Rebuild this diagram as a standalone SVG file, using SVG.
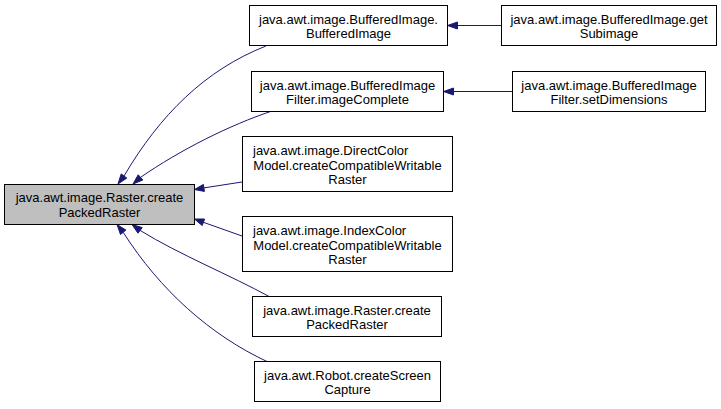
<svg xmlns="http://www.w3.org/2000/svg" width="721" height="409" viewBox="0 0 721 409">
<style>
.n rect{fill:#fff;stroke:#000;stroke-width:1}
.n.main rect{fill:#bfbfbf}
text{font-family:"Liberation Sans",Arial,sans-serif;font-size:13px;fill:#000;text-anchor:middle}
text.l{text-anchor:start}
.e path{fill:none;stroke:#191970;stroke-width:1}
.e polygon{fill:#191970;stroke:#191970;stroke-width:1}
</style>
<rect width="721" height="409" fill="#fff"/>
<g id="edges" class="e">
<path d="M266,46 C205,70 160,115 124,176"/>
<polygon points="126.8,178.1 118,184 121.2,173.9"/>
<path d="M272,111 C230,125 180,150 140.5,177.4"/>
<polygon points="142.8,180 133,184 138.2,174.8"/>
<path d="M242,182 L203.9,187.9"/>
<polygon points="204.4,191.4 194.5,189.5 203.4,184.4"/>
<path d="M242,236 L203.4,222.3"/>
<polygon points="202.2,225.6 194.5,219 204.6,219"/>
<path d="M270,297 C230,275 180,255 140.1,230.4"/>
<polygon points="138,233.2 132,224.5 142.2,227.6"/>
<path d="M268,362 C210,335 160,290 123.2,232.3"/>
<polygon points="120.5,234.5 117,224.5 125.9,230.1"/>
<path d="M501,25.5 L457.5,25.5"/>
<polygon points="457.5,22 447.5,25.5 457.5,29"/>
<path d="M512,91.5 L453.5,91.5"/>
<polygon points="453.5,88 443.5,91.5 453.5,95"/>
</g>
<g id="main" class="n main">
<rect x="4.5" y="184.5" width="190" height="40"/>
<text x="99.5" y="202">java.awt.image.Raster.create</text>
<text x="99.5" y="216.5">PackedRaster</text>
</g>
<g id="bufferedImage" class="n">
<rect x="249.5" y="5.5" width="198" height="40"/>
<text x="348.5" y="23.5">java.awt.image.BufferedImage.</text>
<text x="348.5" y="38">BufferedImage</text>
</g>
<g id="getSubimage" class="n">
<rect x="501.5" y="5.5" width="215" height="40"/>
<text x="609" y="23.5">java.awt.image.BufferedImage.get</text>
<text x="609" y="38">Subimage</text>
</g>
<g id="imageComplete" class="n">
<rect x="251.5" y="71.5" width="192" height="40"/>
<text x="347.5" y="89.5">java.awt.image.BufferedImage</text>
<text x="347.5" y="104">Filter.imageComplete</text>
</g>
<g id="setDimensions" class="n">
<rect x="512.5" y="71.5" width="193" height="40"/>
<text x="609" y="89.5">java.awt.image.BufferedImage</text>
<text x="609" y="104">Filter.setDimensions</text>
</g>
<g id="directColor" class="n">
<rect x="242.5" y="136.5" width="210" height="55"/>
<text class="l" x="253" y="155">java.awt.image.DirectColor</text>
<text x="347.5" y="169.5">Model.createCompatibleWritable</text>
<text x="347.5" y="184">Raster</text>
</g>
<g id="indexColor" class="n">
<rect x="242.5" y="216.5" width="210" height="55"/>
<text class="l" x="253" y="235">java.awt.image.IndexColor</text>
<text x="347.5" y="249.5">Model.createCompatibleWritable</text>
<text x="347.5" y="264">Raster</text>
</g>
<g id="rasterCreate" class="n">
<rect x="252.5" y="296.5" width="189" height="40"/>
<text x="347" y="314.5">java.awt.image.Raster.create</text>
<text x="347" y="329">PackedRaster</text>
</g>
<g id="robot" class="n">
<rect x="254.5" y="361.5" width="186" height="40"/>
<text x="347.5" y="379.5">java.awt.Robot.createScreen</text>
<text x="347.5" y="394">Capture</text>
</g>
</svg>
